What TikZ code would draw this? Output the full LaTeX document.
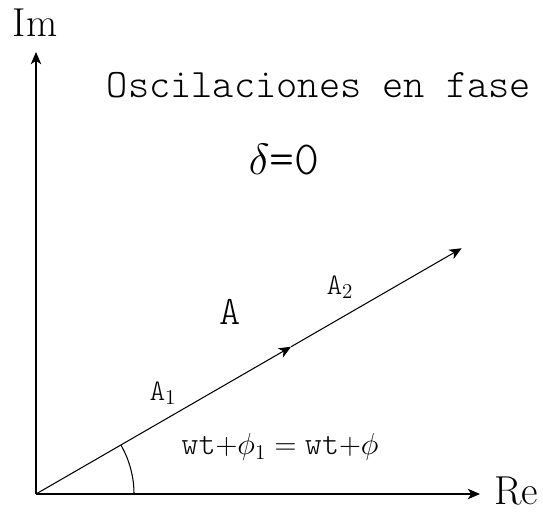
\documentclass[tikz,border=0pt]{standalone}
\usepackage{amsmath,amssymb}
\usepackage{xcolor}
\usepackage{tikz}
\usetikzlibrary{arrows.meta,positioning,calc}
\newcommand{\lighttt}{\ttfamily\fontseries{l}\selectfont}

\begin{document}
\begin{tikzpicture}[line width=0.6pt,
  vec/.style={-{Stealth[length=7pt,width=6pt,inset=2pt]}},
  axislab/.style={font=\fontsize{23}{27}\selectfont},
  ttlab/.style={font=\fontsize{23}{27}\selectfont\lighttt},
  sublab/.style={font=\fontsize{17}{20}\selectfont\lighttt}]
\useasboundingbox (-0.72,-0.42) rectangle (10.14,9.88);
\coordinate (O) at (0,0);
\coordinate (ImEnd) at (0,8.84);
\coordinate (ReEnd) at (8.88,0);
\coordinate (P1) at (30:5.89);
\coordinate (P2) at (30:9.83);
% axes
\draw[vec] (O) -- (ImEnd);
\draw[vec] (O) -- (ReEnd);
\node[axislab] (im) at (-0.02,9.42) {Im};
\node[axislab] (re) at (9.6,0.06) {Re};
% phasors
\draw[vec] (O) -- (P1);
\draw[vec] (P1) -- (P2);
\draw (1.96,0) arc (0:30:1.96);
\node[sublab] (a1) at (2.54,2.02) {A$_1$};
\node[sublab] (a2) at (6.08,4.14) {A$_2$};
\node[ttlab] (a) at (3.88,3.64) {A};
\node[ttlab] (title) at (5.66,8.18) {Oscilaciones en fase};
\node[font=\fontsize{27}{30}\selectfont] (delta) at (4.96,6.68) {$\delta$\lighttt =0};
\node[font=\fontsize{18.5}{21}\selectfont] (phase) at (4.88,0.94) {{\lighttt wt}$+\phi_1={}${\lighttt wt}$+\phi$};
\end{tikzpicture}
\end{document}
